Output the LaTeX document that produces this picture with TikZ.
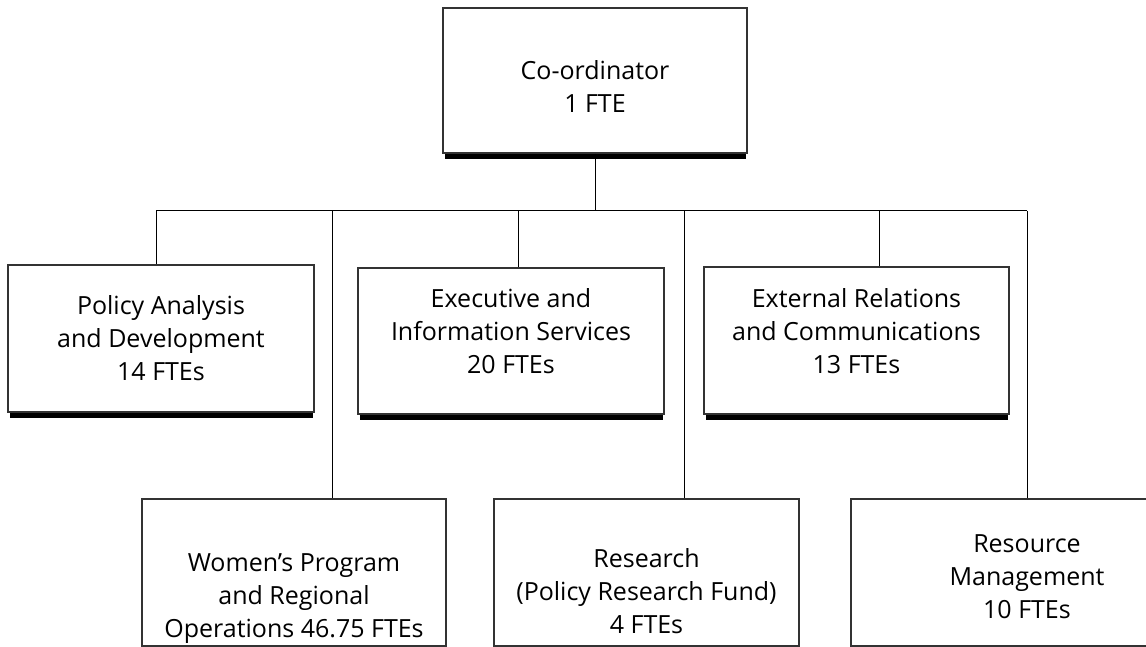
\documentclass[tikz,border=0pt]{standalone}
\usepackage{fontspec}
\setmainfont{Open Sans}
\begin{document}
\begin{tikzpicture}[x=1pt,y=-1pt,
  box/.style={draw=black!80, line width=1.1pt, fill=white, inner sep=0pt},
  lbl/.style={align=center, font=\fontsize{25}{33}\selectfont, inner sep=0pt, text=black},
  conn/.style={draw=black, line width=1pt},
  shadow/.style={fill=black}]
\useasboundingbox (0,0) rectangle (1146,647);

% boxes
\node[box, minimum width=304pt, minimum height=145pt] (top) at (595,80.5) {};
\node[box, minimum width=306pt, minimum height=147pt] (pol) at (161,338.5) {};
\node[box, minimum width=306pt, minimum height=146pt] (exe) at (511,341) {};
\node[box, minimum width=305pt, minimum height=147pt] (ext) at (856.5,340.5) {};
\node[box, minimum width=304pt, minimum height=147pt] (wom) at (294,572.5) {};
\node[box, minimum width=305pt, minimum height=147pt] (res) at (646.5,572.5) {};
\node[box, minimum width=352pt, minimum height=147pt] (rsm) at (1027,572.5) {};

% shadows
\foreach \b in {top,pol,exe,ext}{
  \fill[shadow] ([xshift=3pt,yshift=0pt]\b.south west) rectangle ([xshift=-2pt,yshift=-5pt]\b.south east);
}

% texts
\node[lbl] (ttop) at (595,87) {Co-ordinator\\1 FTE};
\node[lbl] (tpol) at (161,338) {Policy Analysis\\and Development\\14 FTEs};
\node[lbl] (texe) at (511,331) {Executive and\\Information Services\\20 FTEs};
\node[lbl] (text) at (856.5,331) {External Relations\\and Communications\\13 FTEs};
\node[lbl] (twom) at (294,599) {Women’s Program\\and Regional\\Operations 46.75 FTEs};
\node[lbl] (tres) at (646.5,591) {Research\\(Policy Research Fund)\\4 FTEs};
\node[lbl] (trsm) at (1027,577) {Resource\\Management\\10 FTEs};

% connectors
\coordinate (busL) at (156,211);
\coordinate (d2) at (332,211);
\coordinate (d3) at (518,211);
\coordinate (d4) at (684,211);
\coordinate (d5) at (879,211);
\coordinate (busR) at (1027,211);
\draw[conn] (busL) -- (busR);
\draw[conn] (top.south) -- (top.south |- busL);
\draw[conn] (busL) -- (busL |- pol.north);
\draw[conn] (d2) -- (d2 |- wom.north);
\draw[conn] (d3) -- (d3 |- exe.north);
\draw[conn] (d4) -- (d4 |- res.north);
\draw[conn] (d5) -- (d5 |- ext.north);
\draw[conn] (busR) -- (busR |- rsm.north);
\end{tikzpicture}
\end{document}
